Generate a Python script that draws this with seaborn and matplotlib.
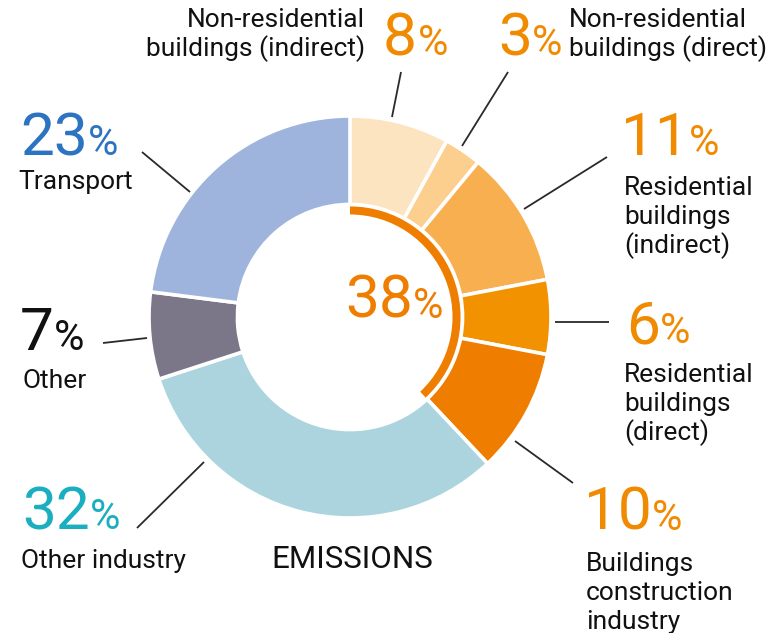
import matplotlib
matplotlib.use("Agg")
import matplotlib.pyplot as plt
from matplotlib.patches import Wedge
import seaborn as sns

# ---- data ----
categories = ["Non-residential buildings (indirect)", "Non-residential buildings (direct)",
              "Residential buildings (indirect)", "Residential buildings (direct)",
              "Buildings construction industry", "Other industry", "Other", "Transport"]
values = [8, 3, 11, 6, 10, 32, 7, 23]
is_building = [True, True, True, True, True, False, False, False]
slice_colors = ["#FDE4C0", "#FDCF8F", "#F7AF50", "#F39200", "#EF7D00",
                "#ABD4DE", "#7B7788", "#9FB4DC"]
pct_colors = ["#F08A00", "#F08A00", "#F08A00", "#F08A00", "#F08A00",
              "#1BAEC1", "#111111", "#2C74C1"]
label_lines = [["Non-residential", "buildings (indirect)"],
               ["Non-residential", "buildings (direct)"],
               ["Residential", "buildings", "(indirect)"],
               ["Residential", "buildings", "(direct)"],
               ["Buildings", "construction", "industry"],
               ["Other industry"],
               ["Other"],
               ["Transport"]]
center_title = "EMISSIONS"

sns.set_theme(style="white")
plt.rcParams["font.family"] = ["Roboto", "DejaVu Sans"]

W, H = 775, 633
fig = plt.figure(figsize=(W / 100, H / 100), dpi=100)
fig.patch.set_facecolor("white")

# ---- donut ----
cx, cy, R = 350, 317, 201
ax = fig.add_axes([(cx - R) / W, (H - cy - R) / H, 2 * R / W, 2 * R / H])
ax.pie(values, colors=slice_colors, startangle=90, counterclock=False, radius=1,
       wedgeprops=dict(width=0.44, edgecolor="white", linewidth=2.6))
ax.set_xlim(-1, 1)
ax.set_ylim(-1, 1)
ax.set_aspect("equal")
ax.axis("off")

building_share = sum(v for v, b in zip(values, is_building) if b)
span = 360 * building_share / sum(values)
ax.add_patch(Wedge((0, 0), 0.55, 90 - span, 90, width=0.04, facecolor="#EF7D00",
                   edgecolor="none"))

# ---- overlay for texts (pixel coordinates) ----
ov = fig.add_axes([0, 0, 1, 1])
ov.set_xlim(0, W)
ov.set_ylim(H, 0)
ov.axis("off")
ov.patch.set_alpha(0)

TXT = "#111111"
LFS = 19
NFS = 43.5
PFS = 30
LSP = 29

# label layout: (pct x, pct baseline, label x, first label baseline, label align)
layout = [
    (383, 55, 365, 27, "right"),
    (498, 55, 569, 27, "left"),
    (621, 155, 624, 195, "left"),
    (626, 343, 624, 382, "left"),
    (584, 530, 586, 571, "left"),
    (22, 529, 21, 568, "left"),
    (20, 350, 23, 388, "left"),
    (20, 155, 18, 189, "left"),
]
leaders = [
    ((401, 72), (392, 117)),
    ((508, 72), (462, 146)),
    ((607, 157), (524, 209)),
    ((609, 322), (555, 322)),
    ((573, 483), (515, 441)),
    ((137, 528), (204, 462)),
    ((103, 343), (147, 338)),
    ((142, 152), (190, 192)),
]

num_texts = []
for i, v in enumerate(values):
    px, pb, lx, lb, al = layout[i]
    t = ov.text(px, pb, f"{v}", fontsize=NFS, color=pct_colors[i], va="baseline", ha="left")
    num_texts.append(t)
    for k, line in enumerate(label_lines[i]):
        ov.text(lx, lb + k * LSP, line, fontsize=LFS, color=TXT, va="baseline", ha=al)
    (x0, y0), (x1, y1) = leaders[i]
    ov.plot([x0, x1], [y0, y1], color="#2A2A2A", lw=1.3, solid_capstyle="butt")

# centre share
tc = ov.text(345, 318, f"{building_share}", fontsize=NFS, color="#EF7D00", va="baseline", ha="left")
num_texts.append(tc)
ov.text(352, 568, center_title, fontsize=22.5, color="#111111", va="baseline", ha="center")

fig.canvas.draw()
r = fig.canvas.get_renderer()
for t in num_texts:
    bb = t.get_window_extent(r)
    ov.text(bb.x1 + 0.5, t.get_position()[1], "%", fontsize=PFS, color=t.get_color(),
            va="baseline", ha="left")

fig.savefig("out.png", dpi=100, facecolor="white")
